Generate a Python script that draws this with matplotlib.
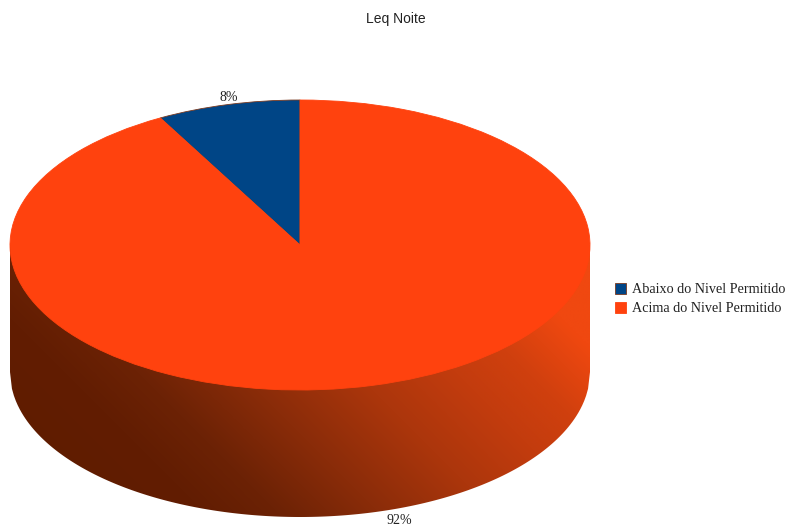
import numpy as np
import matplotlib
matplotlib.use("Agg")
import matplotlib.pyplot as plt
from matplotlib.patches import Polygon

titulo = 'Leq Noite'
categorias = ['Abaixo do Nivel Permitido', 'Acima do Nivel Permitido']
valores = [8, 92]
rotulos = ['8%', '92%']
cores = ['#004586', '#FF420E']

# tons da lateral do disco, da esquerda para a direita
sombra_pos = [-1.0, -0.6, -0.35, 0.0, 0.4, 0.75, 1.0, 1.3]
sombra_r = [95, 98, 108, 138, 172, 195, 208, 240]
sombra_g = [28, 29, 34, 44, 54, 60, 64, 72]
sombra_b = [0, 2, 5, 9, 12, 14, 14, 16]

W, H = 788, 527
cx, cy = 300, 245       # centro da elipse em pixels
rx, ry = 290, 145
prof = 127 / ry         # altura do disco

fig = plt.figure(figsize=(W / 100, H / 100), dpi=100)
ax = fig.add_axes([0, 0, 1, 1])

fatias, _ = ax.pie(valores, colors=cores, startangle=90, counterclock=True, radius=1,
                   wedgeprops=dict(linewidth=0.6, edgecolor='#7a3a20', zorder=3))
fatias[1].set_edgecolor(cores[1])
ax.set_aspect('auto')
ax.axis('off')

# lateral: gradiente recortado pelo contorno do disco
xs = np.linspace(-1, 1, 400)
ys = np.linspace(-1 - prof, 0, 300)
xx, yy = np.meshgrid(xs, ys)
t = np.clip(xx + 0.5 * (yy + 1.0) + 0.15, -1, 1.3)   # fundo mais escuro que o topo
img = np.dstack([np.interp(t, sombra_pos, sombra_r),
                 np.interp(t, sombra_pos, sombra_g),
                 np.interp(t, sombra_pos, sombra_b)]) / 255
im = ax.imshow(img, extent=[-1, 1, -1 - prof, 0], origin='lower', aspect='auto', zorder=1,
               interpolation='bilinear')
ax.set_xlim(-cx / rx, (W - cx) / rx)
ax.set_ylim((cy - H) / ry, cy / ry)
xc = np.linspace(-1, 1, 300)
contorno = np.column_stack([np.r_[xc, xc[::-1]],
                            np.r_[np.full(300, 0.0), -np.sqrt(1 - xc[::-1] ** 2) - prof]])
clip = Polygon(contorno, transform=ax.transData, facecolor='none', edgecolor='none')
ax.add_patch(clip)
im.set_clip_path(clip)

serif = 'Liberation Serif'
ax.text((229 - cx) / rx, (cy - 97) / ry, rotulos[0], family=serif, fontsize=10,
        color='#222222', ha='center', va='center', zorder=5)
ax.text((399 - cx) / rx, (cy - 521) / ry, rotulos[1], family=serif, fontsize=10,
        color='#222222', ha='center', va='center', zorder=5)

fig.text(396 / W, 1 - 19 / H, titulo, family='Liberation Sans', fontsize=10,
         color='#222222', ha='center', va='center')

fig.legend(fatias, categorias, loc='center left', bbox_to_anchor=(615 / W, 1 - 299 / H),
           frameon=False, prop=dict(family=serif, size=10.2), handlelength=0.8, handleheight=0.8,
           handletextpad=0.42, labelspacing=0.4, borderpad=0, borderaxespad=0, labelcolor='#222222')

fig.savefig('out.png', dpi=100)
